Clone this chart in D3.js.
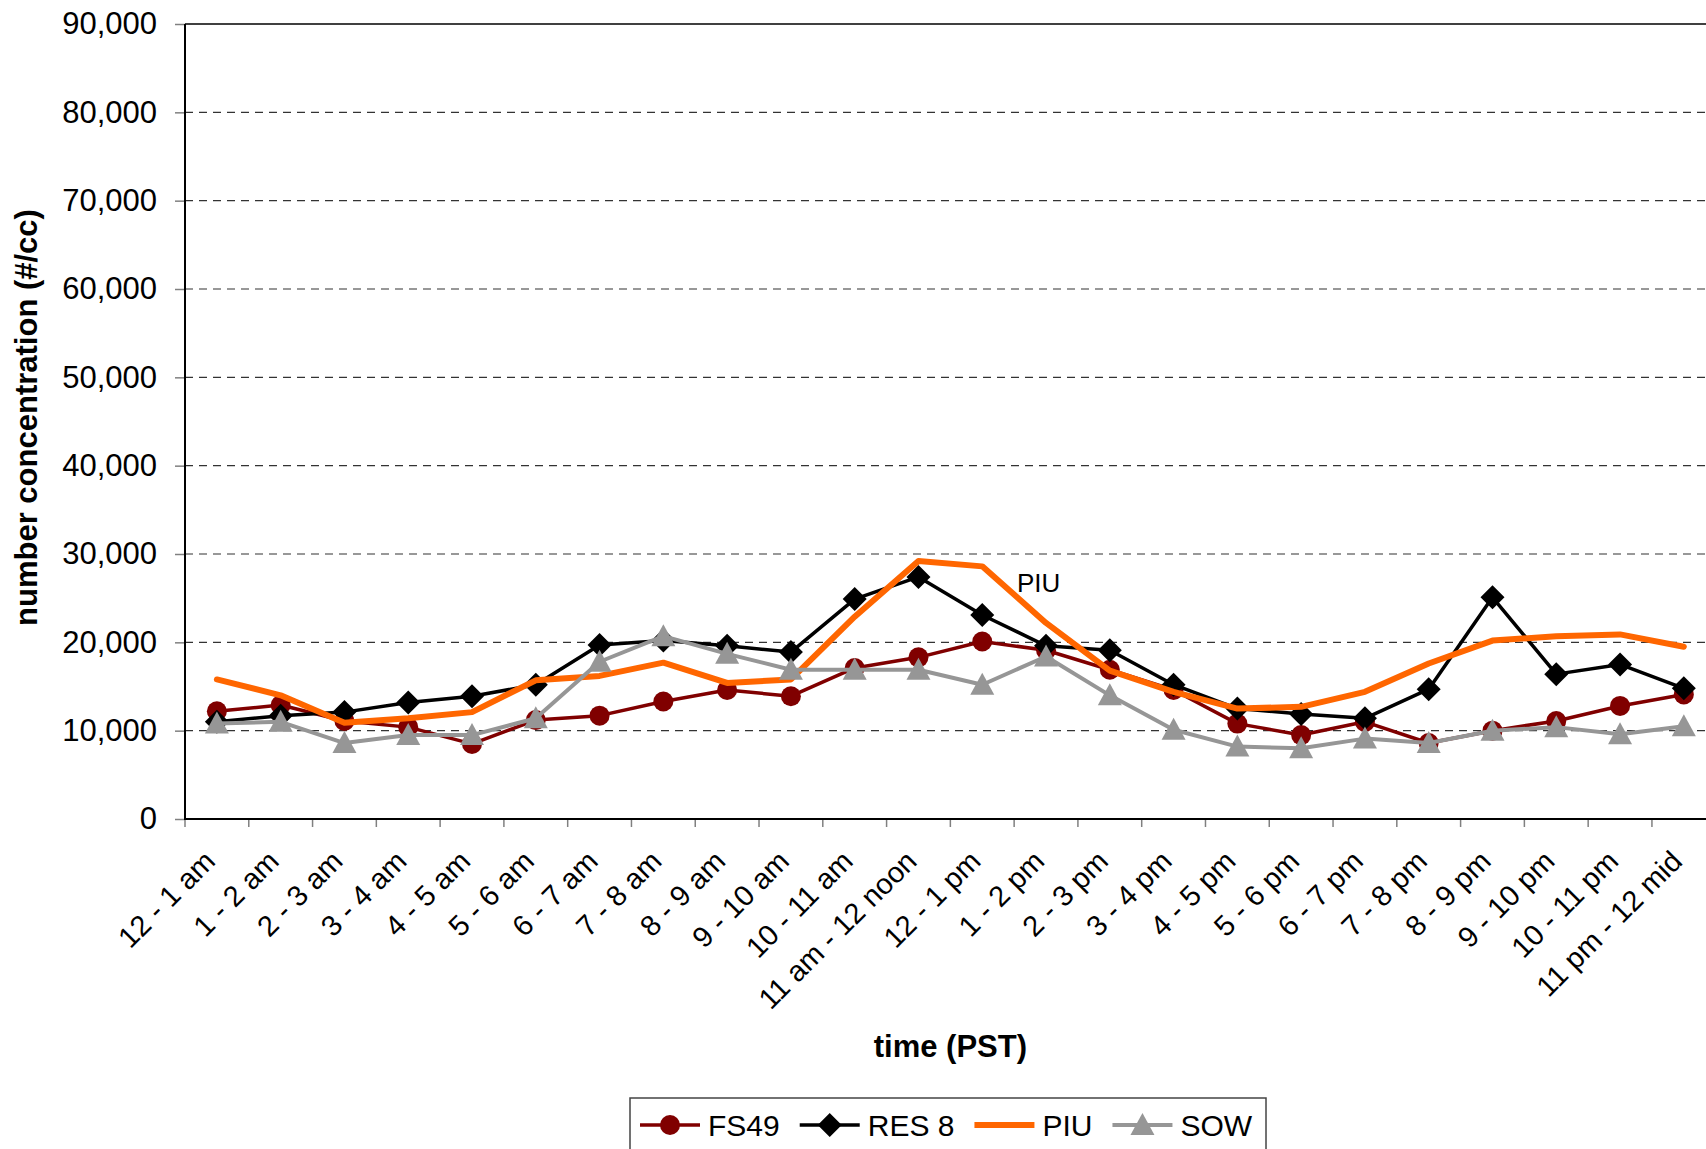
<!DOCTYPE html>
<html>
<head>
<meta charset="utf-8">
<script src="https://cdn.jsdelivr.net/npm/d3@7/dist/d3.min.js"></script>
<style>
  body { margin: 0; background: #fff; }
  svg { display: block; font-family: "Liberation Sans", Arial, sans-serif; }
</style>
</head>
<body>
<svg id="chart"></svg>
<script>
// hourly categories
var hours = ["12 - 1 am", "1 - 2 am", "2 - 3 am", "3 - 4 am", "4 - 5 am", "5 - 6 am",
  "6 - 7 am", "7 - 8 am", "8 - 9 am", "9 - 10 am", "10 - 11 am", "11 am - 12 noon",
  "12 - 1 pm", "1 - 2 pm", "2 - 3 pm", "3 - 4 pm", "4 - 5 pm", "5 - 6 pm",
  "6 - 7 pm", "7 - 8 pm", "8 - 9 pm", "9 - 10 pm", "10 - 11 pm", "11 pm - 12 mid"];

// number concentration (#/cc) per site
var fs49 = [12200, 12900, 11100, 10400, 8500, 11200, 11700, 13300, 14600, 13900, 17100, 18300,
  20100, 19100, 16900, 14600, 10800, 9500, 11000, 8600, 10000, 11100, 12800, 14100];
var res8 = [11000, 11700, 12100, 13200, 13900, 15200, 19700, 20200, 19600, 18900, 24900, 27400,
  23100, 19600, 19100, 15200, 12500, 11900, 11400, 14700, 25100, 16400, 17500, 14800];
var piu = [15800, 14000, 10900, 11400, 12100, 15700, 16200, 17700, 15400, 15800, 22900, 29200,
  28600, 22200, 16800, 14400, 12500, 12700, 14400, 17600, 20200, 20700, 20900, 19500];
var sow = [10800, 11000, 8600, 9500, 9500, 11400, 17800, 20700, 18700, 16900, 16900, 16900,
  15200, 18400, 14000, 10100, 8200, 8000, 9100, 8600, 10000, 10400, 9600, 10500];

var yTicks = [0, 10000, 20000, 30000, 40000, 50000, 60000, 70000, 80000, 90000];

var series = [
  {name: "FS49", values: fs49, color: "#800000", width: 3.5, marker: "circle"},
  {name: "RES 8", values: res8, color: "#000000", width: 3.5, marker: "diamond"},
  {name: "PIU", values: piu, color: "#FF6600", width: 6, marker: null},
  {name: "SOW", values: sow, color: "#969696", width: 4, marker: "triangle"}
];

var svgWidth = 1706, svgHeight = 1149;
var plotLeft = 185, plotTop = 24, plotBottom = 819, band = 63.78;

var svg = d3.select("#chart")
  .attr("width", svgWidth)
  .attr("height", svgHeight);

var x = d3.scaleBand().domain(hours).range([plotLeft, plotLeft + band * hours.length]);
var y = d3.scaleLinear().domain([0, 90000]).range([plotBottom, plotTop]);

// gridlines
svg.append("g")
  .selectAll("line")
  .data(yTicks.filter(function(d) { return d > 0; }))
  .enter().append("line")
  .attr("x1", plotLeft).attr("x2", svgWidth)
  .attr("y1", function(d) { return y(d); })
  .attr("y2", function(d) { return y(d); })
  .attr("stroke", function(d) { return d === 90000 ? "#000" : "#333"; })
  .attr("stroke-width", function(d) { return d === 90000 ? 1.5 : 1.1; })
  .attr("stroke-dasharray", function(d) { return d === 90000 ? null : "8,6"; });

// y axis
var yAxis = svg.append("g")
  .attr("transform", "translate(" + plotLeft + ",0)")
  .call(d3.axisLeft(y).tickValues(yTicks).tickSize(10).tickPadding(18).tickFormat(d3.format(",")));
yAxis.select(".domain").remove();
yAxis.selectAll(".tick line").attr("stroke", "#808080").attr("stroke-width", 1.5);
yAxis.selectAll(".tick text").attr("font-size", 31).attr("fill", "#000")
  .attr("font-family", "Liberation Sans, Arial, sans-serif");

// x axis labels
var xAxis = svg.append("g")
  .attr("transform", "translate(0," + plotBottom + ")")
  .call(d3.axisBottom(x).tickSize(0));
xAxis.select(".domain").remove();
xAxis.selectAll(".tick text")
  .attr("font-size", 29).attr("fill", "#000")
  .attr("font-family", "Liberation Sans, Arial, sans-serif")
  .attr("text-anchor", "end")
  .attr("x", 0).attr("y", 0).attr("dy", 0)
  .attr("transform", "translate(0,44) rotate(-45)");

// x tick marks on category boundaries
svg.append("g")
  .selectAll("line")
  .data(hours.concat(["end"]))
  .enter().append("line")
  .attr("x1", function(d, i) { return plotLeft + i * x.step(); })
  .attr("x2", function(d, i) { return plotLeft + i * x.step(); })
  .attr("y1", plotBottom).attr("y2", plotBottom + 8)
  .attr("stroke", "#808080").attr("stroke-width", 1.5);

// axis lines
svg.append("line").attr("x1", plotLeft).attr("x2", plotLeft).attr("y1", plotTop).attr("y2", plotBottom + 1)
  .attr("stroke", "#000").attr("stroke-width", 2);
svg.append("line").attr("x1", plotLeft - 1).attr("x2", svgWidth).attr("y1", plotBottom).attr("y2", plotBottom)
  .attr("stroke", "#000").attr("stroke-width", 2);

function cx(i) { return x(hours[i]) + x.bandwidth() / 2; }

function drawMarker(g, type, color) {
  if (type === "circle") {
    g.append("circle").attr("r", 10).attr("fill", color);
  } else if (type === "diamond") {
    g.append("path").attr("d", "M0,-12L12,0L0,12L-12,0Z").attr("fill", color);
  } else if (type === "triangle") {
    g.append("path").attr("d", "M0,-12L12,10L-12,10Z").attr("fill", color);
  }
}

var line = d3.line()
  .x(function(d, i) { return cx(i); })
  .y(function(d) { return y(d); });

series.forEach(function(s) {
  var g = svg.append("g");
  g.append("path")
    .datum(s.values)
    .attr("d", line)
    .attr("fill", "none")
    .attr("stroke", s.color)
    .attr("stroke-width", s.width)
    .attr("stroke-linejoin", "round")
    .attr("stroke-linecap", "round");
  if (s.marker) {
    s.values.forEach(function(v, i) {
      var m = g.append("g").attr("transform", "translate(" + cx(i) + "," + y(v) + ")");
      drawMarker(m, s.marker, s.color);
    });
  }
});

// PIU label
svg.append("text")
  .attr("x", 1017).attr("y", 592)
  .attr("font-size", 26)
  .text("PIU");

// axis titles
svg.append("text")
  .attr("transform", "translate(37," + ((plotTop + plotBottom) / 2 - 4) + ") rotate(-90)")
  .attr("text-anchor", "middle")
  .attr("font-size", 31).attr("font-weight", "bold")
  .text("number concentration (#/cc)");

svg.append("text")
  .attr("x", plotLeft + band * hours.length / 2).attr("y", 1057)
  .attr("text-anchor", "middle")
  .attr("font-size", 31).attr("font-weight", "bold")
  .text("time (PST)");

// legend
var legend = svg.append("g");
legend.append("rect")
  .attr("x", 630).attr("y", 1098).attr("width", 636).attr("height", 70)
  .attr("fill", "#fff").attr("stroke", "#444").attr("stroke-width", 1.5);

var lx = 640;
series.forEach(function(s) {
  legend.append("line")
    .attr("x1", lx).attr("x2", lx + 60).attr("y1", 1125).attr("y2", 1125)
    .attr("stroke", s.color).attr("stroke-width", s.width);
  if (s.marker) {
    var m = legend.append("g").attr("transform", "translate(" + (lx + 30) + ",1125)");
    drawMarker(m, s.marker, s.color);
  }
  var t = legend.append("text")
    .attr("x", lx + 68).attr("y", 1136)
    .attr("font-size", 30)
    .text(s.name);
  lx = lx + 68 + t.node().getComputedTextLength() + 20;
});
</script>
</body>
</html>
